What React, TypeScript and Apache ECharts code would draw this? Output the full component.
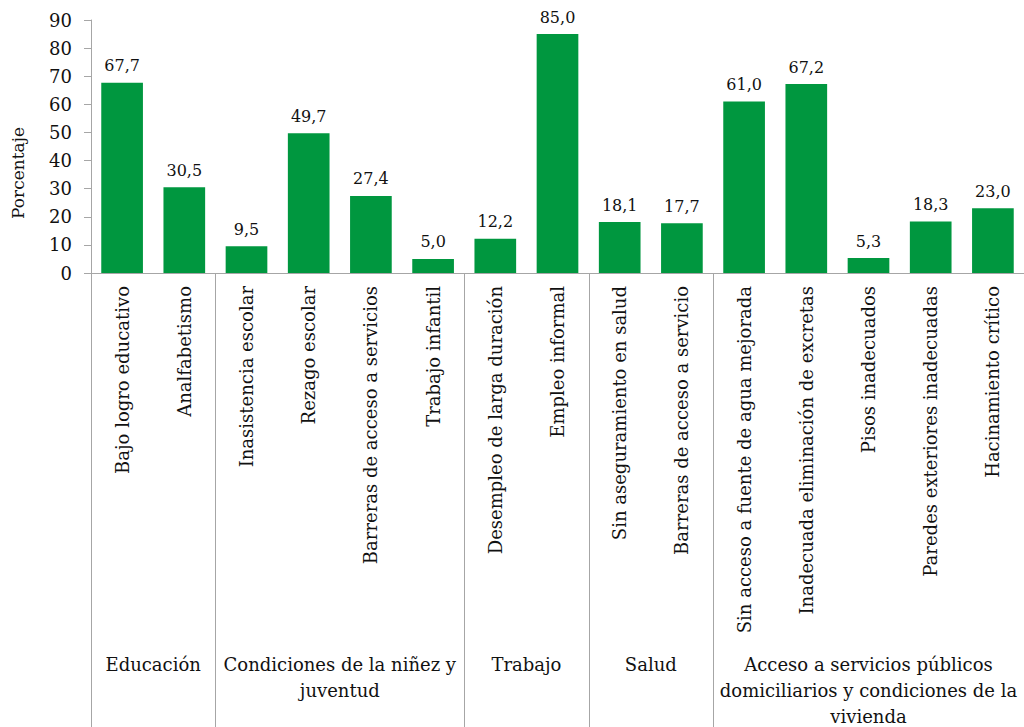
import React, { useEffect, useRef } from "react";
import * as echarts from "echarts";

const categories = [
  "Bajo logro educativo",
  "Analfabetismo",
  "Inasistencia escolar",
  "Rezago escolar",
  "Barreras de acceso a servicios",
  "Trabajo infantil",
  "Desempleo de larga duración",
  "Empleo informal",
  "Sin aseguramiento en salud",
  "Barreras de acceso a servicio",
  "Sin acceso a fuente de agua mejorada",
  "Inadecuada eliminación de excretas",
  "Pisos inadecuados",
  "Paredes exteriores inadecuadas",
  "Hacinamiento crítico",
];
const values = [67.7, 30.5, 9.5, 49.7, 27.4, 5.0, 12.2, 85.0, 18.1, 17.7, 61.0, 67.2, 5.3, 18.3, 23.0];
const groupNames = [
  "Educación",
  "Condiciones de la niñez y\njuventud",
  "Trabajo",
  "Salud",
  "Acceso a servicios públicos\ndomiciliarios y condiciones de la\nvivienda",
];
const groupSizes = [2, 4, 2, 2, 5];
const yAxisName = "Porcentaje";

const FONT = "DejaVu Serif";
const GRAY = "#a6a6a6";

export default function App() {
  const ref = useRef<HTMLDivElement>(null);
  useEffect(() => {
    const chart = echarts.init(ref.current!, null, { renderer: "svg" });
    chart.setOption({
      animation: false,
      backgroundColor: "#fff",
      grid: { left: 91, top: 20, right: -2, bottom: 454 },
      xAxis: {
        type: "category",
        data: categories,
        axisLine: { lineStyle: { color: GRAY, width: 1 } },
        axisTick: { show: false },
        axisLabel: {
          rotate: 90,
          interval: 0,
          margin: 13,
          color: "#111",
          fontFamily: FONT,
          fontSize: 18,
        },
      },
      yAxis: {
        type: "value",
        min: 0,
        max: 90,
        interval: 10,
        splitLine: { show: false },
        axisLine: { show: true, lineStyle: { color: GRAY, width: 1 } },
        axisTick: { show: true, length: 7, lineStyle: { color: GRAY } },
        axisLabel: { color: "#111", fontFamily: FONT, fontSize: 18, margin: 19 },
      },
      series: [
        {
          type: "bar",
          data: values,
          barWidth: "67%",
          itemStyle: { color: "#00973F" },
          label: {
            show: true,
            position: "top",
            distance: 9,
            color: "#111",
            fontFamily: FONT,
            fontSize: 16,
            formatter: (p: any) => p.value.toFixed(1).replace(".", ","),
          },
        },
      ],
    });

    const x0 = chart.convertToPixel({ xAxisIndex: 0 }, 0) as number;
    const x1 = chart.convertToPixel({ xAxisIndex: 0 }, 1) as number;
    const step = x1 - x0;
    const yBase = chart.convertToPixel({ yAxisIndex: 0 }, 0) as number;
    const elements: any[] = [];
    let idx = 0;
    groupSizes.forEach((n, g) => {
      const left = x0 + (idx - 0.5) * step;
      const right = x0 + (idx + n - 0.5) * step;
      elements.push({
        type: "line",
        shape: { x1: Math.round(left) + 0.5, y1: yBase, x2: Math.round(left) + 0.5, y2: 727 },
        style: { stroke: GRAY, lineWidth: 1 },
      });
      elements.push({
        type: "text",
        x: (left + right) / 2,
        y: 651,
        style: {
          text: groupNames[g],
          align: "center",
          verticalAlign: "top",
          fontFamily: FONT,
          fontSize: 18,
          lineHeight: 26,
          fill: "#111",
        },
      });
      idx += n;
    });
    elements.push({
      type: "text",
      x: 18,
      y: 173,
      rotation: Math.PI / 2,
      style: {
        text: yAxisName,
        align: "center",
        verticalAlign: "middle",
        fontFamily: FONT,
        fontSize: 17,
        fill: "#111",
      },
    });
    chart.setOption({ graphic: { elements } });
    return () => chart.dispose();
  }, []);
  return (
    <div
      ref={ref}
      style={{ position: "fixed", left: 0, top: 0, width: 1024, height: 727 }}
    />
  );
}
